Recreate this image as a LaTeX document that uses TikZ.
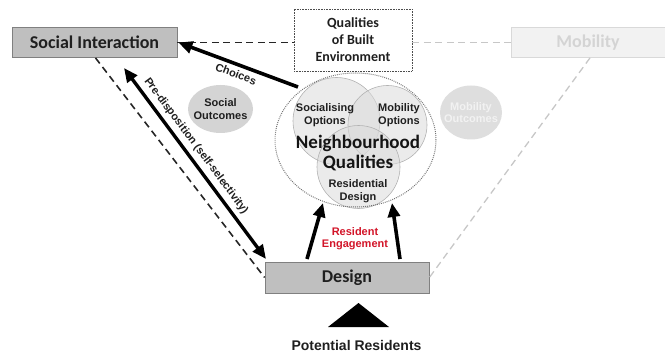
\documentclass[tikz,border=0pt]{standalone}
\usepackage{fontspec}
\setmainfont{Liberation Sans}
\newfontfamily\calib{Carlito}
\usetikzlibrary{arrows.meta,shapes.geometric}
\begin{document}
\begin{tikzpicture}[x=1pt,y=-1pt,
  bigbox/.style={draw=black!50, fill=black!25, line width=0.8pt, minimum height=30pt, inner sep=0pt, text=black!88, font=\calib\bfseries\fontsize{18}{20}\selectfont},
  lbl/.style={font=\bfseries\fontsize{11}{12.5}\selectfont, align=center, text=black!88, inner sep=0pt},
  venn/.style={circle, draw=black!30, line width=0.6pt, fill=black!14, fill opacity=0.55, inner sep=0pt},
  outc/.style={ellipse, inner sep=0pt},
  dsh/.style={line width=1.6pt, dash pattern=on 7pt off 4.5pt},
  tip/.style={Triangle[length=14pt,width=12pt]},
  thick arrow/.style={line width=3.6pt, -{Triangle[length=14pt,width=12pt]}}
]
\useasboundingbox (0,0) rectangle (665,353);

% boxes
\node[bigbox, minimum width=165pt] (si) at (94.5,42.5) {Social Interaction};
\node[bigbox, minimum width=154pt, draw=black!15, fill=black!5, text=black!17] (mob) at (588,42.5) {Mobility};
\node[bigbox, minimum width=164pt, minimum height=31pt] (des) at (347,277.5) {Design};
\node[draw=black!70, dash pattern=on 0.8pt off 0.8pt, line width=0.7pt, fill=white, minimum width=118pt, minimum height=62pt, inner sep=0pt, align=center, text=black!88, font=\calib\bfseries\fontsize{14}{17}\selectfont] (qbe) at (353,40) {Qualities\\of Built\\Environment};

% outcomes
\node[outc, fill=black!17, minimum width=65pt, minimum height=48pt] (so) at (220.5,109) {};
\node[lbl] at (so) {Social\\Outcomes};
\node[outc, fill=black!13, minimum width=62pt, minimum height=54pt] (mo) at (471,112.5) {};
\node[lbl, text=black!5] at (mo) {Mobility\\Outcomes};

% neighbourhood qualities
\node[venn, minimum size=87pt] (soc) at (336.5,121) {};
\node[venn, minimum size=79pt] (mop) at (387.5,125) {};
\node[venn, minimum size=83pt] (res) at (358.5,167) {};
\node[ellipse, draw=black!55, line width=1pt, dash pattern=on 0.9pt off 1.1pt, minimum width=161pt, minimum height=134pt, inner sep=0pt] (nq) at (355.5,140) {};
\node[lbl] (socl) at (325,115) {Socialising\\Options};
\node[lbl] (mopl) at (399,115) {Mobility\\Options};
\node[lbl] (resl) at (358,191) {Residential\\Design};
\node[align=center, inner sep=0pt, text=black!92, font=\calib\bfseries\fontsize{19}{20}\selectfont] (nql) at (358,153) {Neighbourhood\\Qualities};

% connectors
\draw[dsh, black!85] (si.east) -- (si.east -| qbe.west);
\draw[dsh, black!22, line width=1.3pt] (qbe.east |- mob.west) -- (mob.west);
\draw[dsh, black!85] ([xshift=1pt]si.south) -- (des.west);
\draw[dsh, black!22, line width=1.3pt] ([xshift=2pt]mob.south) -- (des.east);

\coordinate (pdtop) at (124,68);
\coordinate (pdbot) at (266,259);
\draw[line width=3.4pt, {Triangle[length=14pt,width=12pt]}-{Triangle[length=14pt,width=12pt]}] (pdtop) -- (pdbot);
\node[lbl, rotate=-53.3] (pdl) at (196,146) {Pre-disposition (self-selectivity)};

\coordinate (chs) at (298,87);
\draw[thick arrow] (chs) -- ([xshift=1pt]si.east);
\node[lbl, rotate=-20.6] (chl) at (236,74) {Choices};

\coordinate (ua1) at (307,259);
\coordinate (ut1) at (323,203);
\coordinate (ua2) at (400,259);
\coordinate (ut2) at (392,203);
\draw[thick arrow] (ua1) -- (ut1);
\draw[thick arrow] (ua2) -- (ut2);
\node[lbl, text={rgb,255:red,210;green,20;blue,40}] (re) at (355,238.5) {Resident\\Engagement};

% potential residents
\fill[black] (328,327) -- (358.5,303) -- (389,327) -- cycle;
\node[font=\bfseries\fontsize{14}{16}\selectfont, text=black!88, inner sep=0pt] (pr) at (356.5,345) {Potential Residents};
\end{tikzpicture}
\end{document}
